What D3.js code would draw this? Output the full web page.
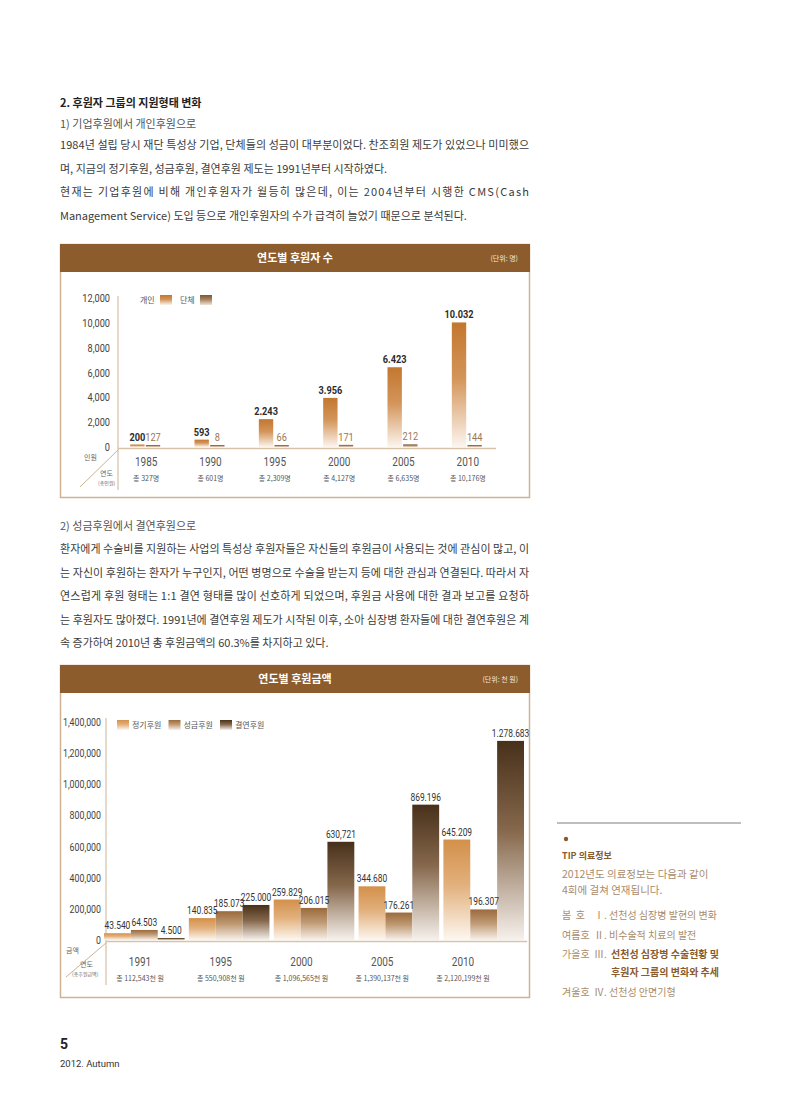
<!DOCTYPE html>
<html><head><meta charset="utf-8">
<script src="https://cdn.jsdelivr.net/npm/d3@7"></script>
<style>body{margin:0;background:#fff} svg{display:block}</style>
</head><body>
<svg id="c" width="800" height="1095"></svg>
<script>
// ---------- data ----------
const years1 = ['1985','1990','1995','2000','2005','2010'];
const series1 = ['개인','단체'];
const individual = [200,593,2243,3956,6423,10032];
const groupDonors = [127,8,66,171,212,144];
const individualLabels = ['200','593','2.243','3.956','6.423','10.032'];
const groupLabels = ['127','8','66','171','212','144'];
const totals1 = ['총 327명','총 601명','총 2,309명','총 4,127명','총 6,635명','총 10,176명'];
const ticks1 = [0,2000,4000,6000,8000,10000,12000];

const years2 = ['1991','1995','2000','2005','2010'];
const series2 = ['정기후원','성금후원','결연후원'];
const regular = [43540,140835,259829,344680,645209];
const donation = [64503,185073,206015,176261,196307];
const sponsorship = [4500,225000,630721,869196,1278683];
const regularLabels = ['43.540','140.835','259.829','344.680','645.209'];
const donationLabels = ['64.503','185.073','206.015','176.261','196.307'];
const sponsorshipLabels = ['4.500','225.000','630,721','869.196','1.278.683'];
const totals2 = ['총 112,543천 원','총 550,908천 원','총 1,096,565천 원','총 1,390,137천 원','총 2,120,199천 원'];
const ticks2 = [0,200000,400000,600000,800000,1000000,1200000,1400000];

const para1 = [
  ['1984년 설립 당시 재단 특성상 기업, 단체들의 성금이 대부분이었다. 찬조회원 제도가 있었으나 미미했으', true],
  ['며, 지금의 정기후원, 성금후원, 결연후원 제도는 1991년부터 시작하였다.', false],
  ['현재는 기업후원에 비해 개인후원자가 월등히 많은데, 이는 2004년부터 시행한 CMS(Cash', true],
  ['Management Service) 도입 등으로 개인후원자의 수가 급격히 늘었기 때문으로 분석된다.', false]
];
const para2 = [
  ['환자에게 수술비를 지원하는 사업의 특성상 후원자들은 자신들의 후원금이 사용되는 것에 관심이 많고, 이', true],
  ['는 자신이 후원하는 환자가 누구인지, 어떤 병명으로 수술을 받는지 등에 대한 관심과 연결된다. 따라서 자', true],
  ['연스럽게 후원 형태는 1:1 결연 형태를 많이 선호하게 되었으며, 후원금 사용에 대한 결과 보고를 요청하', true],
  ['는 후원자도 많아졌다. 1991년에 결연후원 제도가 시작된 이후, 소아 심장병 환자들에 대한 결연후원은 계', true],
  ['속 증가하여 2010년 총 후원금액의 60.3%를 차지하고 있다.', false]
];
const tipSeasons = ['봄  호','여름호','가을호','겨울호'];
const tipNums = ['Ⅰ.','Ⅱ.','Ⅲ.','Ⅳ.'];
const tipTitles = ['선천성 심장병 발현의 변화','비수술적 치료의 발전','선천성 심장병 수술현황 및','선천성 안면기형'];

// ---------- drawing ----------
const KR = "'Noto Sans CJK KR', 'Noto Sans', sans-serif";
const NUM = "Roboto, 'Liberation Sans', sans-serif";
const SQ = 0.8; // horizontal squeeze for condensed-looking numbers
const svg = d3.select('#c');
const defs = svg.append('defs');
function grad(id, top, mid, bottom){
  const g = defs.append('linearGradient').attr('id', id).attr('x1',0).attr('y1',0).attr('x2',0).attr('y2',1);
  g.append('stop').attr('offset','0%').attr('stop-color',top);
  g.append('stop').attr('offset','45%').attr('stop-color',mid);
  g.append('stop').attr('offset','100%').attr('stop-color',bottom);
}
grad('gInd','#c3772f','#d3955a','#fcf5ee');
grad('gGrp','#7d5631','#a98361','#efe2d5');
grad('gReg','#d3904a','#e2b07c','#fdf7f0');
grad('gDon','#9b6a3b','#bf9a74','#f8f1ea');
grad('gSpo','#47301a','#86684c','#f6f1ec');

// condensed number text helper
function num(sel, fx, fy){
  return sel.attr('transform',(d,i)=>`translate(${fx(d,i)},${fy(d,i)}) scale(${SQ},1)`).attr('font-family',NUM);
}

const TXT = '#3b3b3b';
svg.append('text').attr('x',60).attr('y',107).attr('font-family',KR).attr('font-size',11).attr('font-weight',700).attr('fill','#222').text('2. 후원자 그룹의 지원형태 변화');
svg.append('text').attr('x',60).attr('y',128).attr('font-family',KR).attr('font-size',11).attr('fill','#555').text('1) 기업후원에서 개인후원으로');
function para(lines, y0){
  lines.forEach((l,i)=>{
    const t = svg.append('text').attr('x',60).attr('y',y0 + i*23.5).attr('font-family',KR).attr('font-size',11).attr('fill',TXT).text(l[0]);
    if (l[1]) t.attr('textLength',469).attr('lengthAdjust','spacing');
  });
}
para(para1, 149);
svg.append('text').attr('x',60).attr('y',530).attr('font-family',KR).attr('font-size',11).attr('fill','#555').text('2) 성금후원에서 결연후원으로');
para(para2, 553);

const HEAD = '#8d5c2d', BORDER = '#cdb293';
function frame(y0, y1, title, unit){
  svg.append('rect').attr('x',60.5).attr('y',y0+0.5).attr('width',469).attr('height',y1-y0).attr('fill','#fff').attr('stroke',BORDER).attr('stroke-width',1.5);
  svg.append('rect').attr('x',60).attr('y',y0).attr('width',470).attr('height',28).attr('fill',HEAD);
  svg.append('text').attr('x',295).attr('y',y0+18).attr('text-anchor','middle').attr('font-family',KR).attr('font-size',11).attr('font-weight',700).attr('fill','#fff').text(title);
  svg.append('text').attr('x',518).attr('y',y0+17).attr('text-anchor','end').attr('font-family',KR).attr('font-size',7).attr('fill','#f3e6d8').text(unit);
}

// ---------- chart 1 ----------
frame(244, 497, '연도별 후원자 수', '(단위: 명)');
const x1 = d3.scaleBand().domain(years1).range([114, 500]);
const xs1 = d3.scaleBand().domain(series1).range([-16, 14]).paddingInner(0.08);
const y1 = d3.scaleLinear().domain([0,12000]).range([447, 298]);
const c1 = svg.append('g');
num(c1.selectAll('.t1').data(ticks1).join('text'), ()=>110, d=>y1(d)+4).attr('text-anchor','end')
  .attr('font-size',11.5).attr('fill','#444').text(d=>d3.format(',')(d));
c1.append('line').attr('x1',118).attr('x2',118).attr('y1',296).attr('y2',490).attr('stroke',BORDER).attr('stroke-width',1);
c1.append('line').attr('x1',80).attr('x2',118).attr('y1',487).attr('y2',450).attr('stroke',BORDER).attr('stroke-width',1);
c1.append('line').attr('x1',118).attr('x2',496).attr('y1',448.5).attr('y2',448.5).attr('stroke','#d8c2a8').attr('stroke-width',1.5);
const d1 = years1.map((y,i)=>({year:y, vals:[
  {s:'개인', v:individual[i], lab:individualLabels[i], fill:'url(#gInd)'},
  {s:'단체', v:groupDonors[i], lab:groupLabels[i], fill:'url(#gGrp)'}]}));
const g1 = c1.selectAll('.grp').data(d1).join('g').attr('transform',d=>`translate(${x1(d.year)+x1.bandwidth()/2},0)`);
g1.selectAll('rect').data(d=>d.vals).join('rect')
  .attr('x',d=>xs1(d.s)).attr('width',xs1.bandwidth())
  .attr('y',d=>Math.min(y1(d.v), y1(0)-2)).attr('height',d=>Math.max(y1(0)-y1(d.v),2)).attr('fill',d=>d.fill);
num(g1.selectAll('text.v').data(d=>d.vals).join('text').attr('class','v'),
  d=>xs1(d.s)+xs1.bandwidth()/2, d=>Math.min(y1(d.v), y1(0)-2)-4).attr('text-anchor','middle')
  .attr('font-size',11.5).attr('font-weight',d=>d.s==='개인'?700:400)
  .attr('fill',d=>d.s==='개인'?'#2b2b2b':'#9b7653').text(d=>d.lab);
num(g1.append('text'), ()=>0, ()=>466).attr('text-anchor','middle').attr('font-size',12.5).attr('fill','#555').text(d=>d.year);
g1.append('text').data(totals1).attr('y',481).attr('text-anchor','middle').attr('font-family',KR).attr('font-size',7).attr('fill','#555').text(d=>d);
c1.append('text').attr('x',84).attr('y',460).attr('font-family',KR).attr('font-size',7).attr('fill','#666').text('인원');
c1.append('text').attr('x',100).attr('y',476).attr('font-family',KR).attr('font-size',7).attr('fill','#666').text('연도');
c1.append('text').attr('x',98).attr('y',485).attr('font-family',KR).attr('font-size',5).attr('fill','#666').text('(총인원)');
const leg1 = [{s:'개인',x:140,fill:'url(#gInd)'},{s:'단체',x:180,fill:'url(#gGrp)'}];
leg1.forEach(l=>{
  c1.append('text').attr('x',l.x).attr('y',303).attr('font-family',KR).attr('font-size',8).attr('fill','#555').text(l.s);
  c1.append('rect').attr('x',l.x+20).attr('y',295).attr('width',12).attr('height',10).attr('fill',l.fill);
});

// ---------- chart 2 ----------
frame(665, 997, '연도별 후원금액', '(단위: 천 원)');
const x2 = d3.scaleBand().domain(years2).range([104, 524]).paddingInner(0.05).paddingOuter(0);
const xs2 = d3.scaleBand().domain(series2).range([0, x2.bandwidth()]);
const xl2 = d3.scalePoint().domain(years2).range([140, 463]);
const y2 = d3.scaleLinear().domain([0,1400000]).range([940, 722]);
const c2 = svg.append('g');
num(c2.selectAll('.t2').data(ticks2).join('text'), ()=>101, d=>y2(d)+4).attr('text-anchor','end')
  .attr('font-size',11).attr('fill','#444').text(d=>d3.format(',')(d));
c2.append('line').attr('x1',106).attr('x2',106).attr('y1',718).attr('y2',985).attr('stroke',BORDER).attr('stroke-width',1);
c2.append('line').attr('x1',66).attr('x2',106).attr('y1',977).attr('y2',943).attr('stroke',BORDER).attr('stroke-width',1);
const fills2 = {'정기후원':'url(#gReg)','성금후원':'url(#gDon)','결연후원':'url(#gSpo)'};
const d2 = years2.map((y,i)=>({year:y, vals:[
  {s:'정기후원', v:regular[i], lab:regularLabels[i]},
  {s:'성금후원', v:donation[i], lab:donationLabels[i]},
  {s:'결연후원', v:sponsorship[i], lab:sponsorshipLabels[i]}]}));
const g2 = c2.selectAll('.grp').data(d2).join('g').attr('transform',d=>`translate(${x2(d.year)},0)`);
g2.selectAll('rect').data(d=>d.vals).join('rect')
  .attr('x',d=>xs2(d.s)).attr('width',xs2.bandwidth())
  .attr('y',d=>Math.min(y2(d.v), y2(0)-2)).attr('height',d=>Math.max(y2(0)-y2(d.v),2)).attr('fill',d=>fills2[d.s]);
num(g2.selectAll('text.v').data(d=>d.vals).join('text').attr('class','v'),
  d=>xs2(d.s)+xs2.bandwidth()/2, d=>Math.min(y2(d.v), y2(0)-2)-4).attr('text-anchor','middle')
  .attr('font-size',10.5).attr('fill','#333').text(d=>d.lab);
c2.append('line').attr('x1',106).attr('x2',527).attr('y1',941.5).attr('y2',941.5).attr('stroke','#d8c2a8').attr('stroke-width',1.5);
num(c2.selectAll('.yl').data(years2).join('text'), d=>xl2(d), ()=>966).attr('text-anchor','middle')
  .attr('font-size',12.5).attr('fill','#555').text(d=>d);
c2.selectAll('.tl').data(totals2).join('text').attr('x',(d,i)=>xl2(years2[i])).attr('y',981).attr('text-anchor','middle')
  .attr('font-family',KR).attr('font-size',7).attr('fill','#555').text(d=>d);
c2.append('text').attr('x',66).attr('y',953).attr('font-family',KR).attr('font-size',7).attr('fill','#666').text('금액');
c2.append('text').attr('x',80).attr('y',967).attr('font-family',KR).attr('font-size',7).attr('fill','#666').text('연도');
c2.append('text').attr('x',72).attr('y',976).attr('font-family',KR).attr('font-size',5).attr('fill','#666').text('(총후원금액)');
series2.forEach((s,i)=>{
  const lx = 117 + i*51.5;
  c2.append('rect').attr('x',lx).attr('y',720).attr('width',12).attr('height',10).attr('fill',fills2[s]);
  c2.append('text').attr('x',lx+15).attr('y',728).attr('font-family',KR).attr('font-size',8).attr('fill','#555').text(s);
});

// ---------- sidebar ----------
const TAN = '#a98b6b', BRN = '#8a5a2c';
svg.append('line').attr('x1',557).attr('x2',741).attr('y1',823).attr('y2',823).attr('stroke','#a9a9a9').attr('stroke-width',1.5);
svg.append('circle').attr('cx',566).attr('cy',839).attr('r',2.2).attr('fill',BRN);
svg.append('text').attr('x',562).attr('y',859).attr('font-family',KR).attr('font-size',9).attr('font-weight',700).attr('fill',BRN).text('TIP 의료정보');
svg.append('text').attr('x',562).attr('y',878).attr('font-family',KR).attr('font-size',10.5).attr('fill',TAN).text('2012년도 의료정보는 다음과 같이');
svg.append('text').attr('x',562).attr('y',894).attr('font-family',KR).attr('font-size',10.5).attr('fill',TAN).text('4회에 걸쳐 연재됩니다.');
const tipY = [919, 939, 958, 996];
tipSeasons.forEach((s,i)=>{
  const bold = i===2;
  svg.append('text').attr('x',562).attr('y',tipY[i]).attr('xml:space','preserve').attr('font-family',KR).attr('font-size',10).attr('fill',TAN).text(s);
  svg.append('text').attr('x',594).attr('y',tipY[i]).attr('font-family',KR).attr('font-size',10).attr('fill',TAN).text(tipNums[i]);
  svg.append('text').attr('x',bold?611:609).attr('y',tipY[i]).attr('font-family',KR).attr('font-size',10)
    .attr('font-weight',bold?700:400).attr('fill',bold?BRN:TAN).text(tipTitles[i]);
});
svg.append('text').attr('x',611).attr('y',976).attr('font-family',KR).attr('font-size',10).attr('font-weight',700).attr('fill',BRN).text('후원자 그룹의 변화와 추세');

// ---------- footer ----------
svg.append('text').attr('x',60).attr('y',1049).attr('font-family',NUM).attr('font-size',14).attr('font-weight',700).attr('fill','#222').text('5');
svg.append('text').attr('x',60).attr('y',1067).attr('font-family',NUM).attr('font-size',9.5).attr('fill','#333').text('2012. Autumn');
</script>
</body></html>
